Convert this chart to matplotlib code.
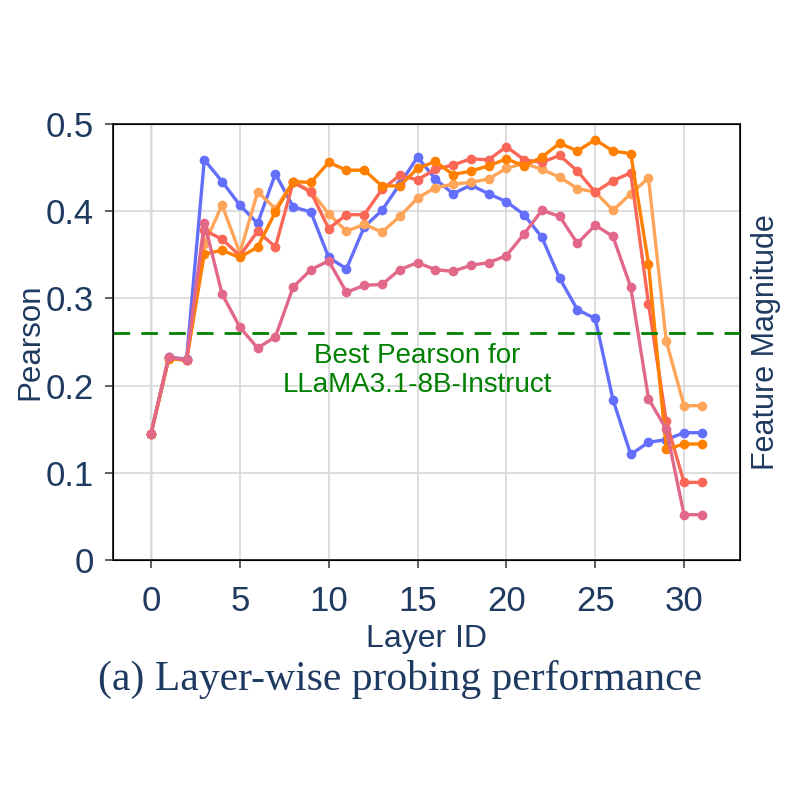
import matplotlib
matplotlib.use("Agg")
import matplotlib.pyplot as plt

layers = list(range(32))

blue = [0.145, 0.233, 0.230, 0.459, 0.434, 0.407, 0.386, 0.443, 0.405, 0.399,
        0.347, 0.334, 0.382, 0.401, 0.431, 0.462, 0.437, 0.420, 0.430, 0.420,
        0.411, 0.396, 0.370, 0.323, 0.287, 0.277, 0.184, 0.121, 0.135, 0.138,
        0.146, 0.146]
light_orange = [0.145, 0.232, 0.229, 0.362, 0.407, 0.352, 0.422, 0.403, 0.434, 0.423,
                0.397, 0.377, 0.385, 0.376, 0.394, 0.415, 0.427, 0.431, 0.433, 0.437,
                0.449, 0.455, 0.448, 0.439, 0.426, 0.422, 0.401, 0.420, 0.438, 0.251,
                0.177, 0.177]
coral = [0.145, 0.232, 0.229, 0.378, 0.368, 0.349, 0.377, 0.359, 0.433, 0.422,
         0.380, 0.396, 0.396, 0.425, 0.441, 0.436, 0.448, 0.453, 0.460, 0.459,
         0.474, 0.459, 0.456, 0.464, 0.446, 0.422, 0.435, 0.444, 0.294, 0.159,
         0.089, 0.089]
orange = [0.145, 0.231, 0.229, 0.351, 0.355, 0.347, 0.359, 0.399, 0.434, 0.433,
          0.456, 0.447, 0.447, 0.429, 0.429, 0.449, 0.457, 0.442, 0.446, 0.452,
          0.460, 0.452, 0.462, 0.478, 0.469, 0.482, 0.469, 0.466, 0.340, 0.127,
          0.133, 0.133]
pink = [0.145, 0.233, 0.229, 0.387, 0.305, 0.267, 0.243, 0.256, 0.313, 0.333,
        0.343, 0.307, 0.315, 0.316, 0.333, 0.341, 0.333, 0.331, 0.338, 0.341,
        0.349, 0.374, 0.401, 0.394, 0.363, 0.384, 0.371, 0.313, 0.185, 0.150,
        0.052, 0.052]

series = [
    (blue, "#636EFA"),
    (light_orange, "#FFA55A"),
    (coral, "#FA6757"),
    (orange, "#FF8000"),
    (pink, "#E2688A"),
]

best_pearson = 0.26
annot = "Best Pearson for\nLLaMA3.1-8B-Instruct"
x_ticks = [0, 5, 10, 15, 20, 25, 30]
y_ticks = [0, 0.1, 0.2, 0.3, 0.4, 0.5]
y_tick_labels = ["0", "0.1", "0.2", "0.3", "0.4", "0.5"]

navy = "#1f3a60"
plt.rcParams['font.family'] = ['Liberation Sans', 'DejaVu Sans']

fig = plt.figure(figsize=(8, 8), dpi=100)
ax = fig.add_axes([113/800, 1-560/800, (740-113)/800, (560-124)/800])

for vals, col in series:
    ax.plot(layers, vals, color=col, lw=2.4, marker='o', ms=7.0,
            markeredgewidth=0, zorder=3)

ax.axhline(best_pearson, color="green", lw=2.0, dashes=(6, 4), zorder=4)
ax.text(15.0, 0.217, annot, color="green", fontsize=20, ha="center",
        va="center", linespacing=1.15, zorder=5)

ax.set_xlim(-2.14, 33.15)
ax.set_ylim(0, 0.5)
ax.set_xticks(x_ticks)
ax.set_yticks(y_ticks)
ax.set_yticklabels(y_tick_labels)
ax.grid(True, color="#d8d8d8", lw=1.2, zorder=0)
ax.axvline(0, color="#e6edf6", lw=2.0, zorder=1)
for s in ax.spines.values():
    s.set_color("#222222")
    s.set_linewidth(1.3)
ax.tick_params(axis='both', direction='out', length=6, width=1.2,
               color="#444444", labelsize=25, labelcolor=navy, pad=8)
ax.tick_params(axis='x', pad=12)
ax.set_ylabel("Pearson", fontsize=22.5, color=navy, labelpad=0)
ax.set_xlabel("Layer ID", fontsize=23, color=navy, labelpad=4)

ax2 = ax.twinx()
ax2.set_ylim(0, 0.5)
ax2.set_yticks([])
ax2.set_ylabel("Feature Magnitude", fontsize=22, color=navy, labelpad=8)

fig.text(0.5, 1-679/800, "(a) Layer-wise probing performance",
         family=['Liberation Serif', 'DejaVu Serif'], fontsize=30,
         color=navy, ha="center", va="center")

fig.savefig("out.png", dpi=100, facecolor="white")
